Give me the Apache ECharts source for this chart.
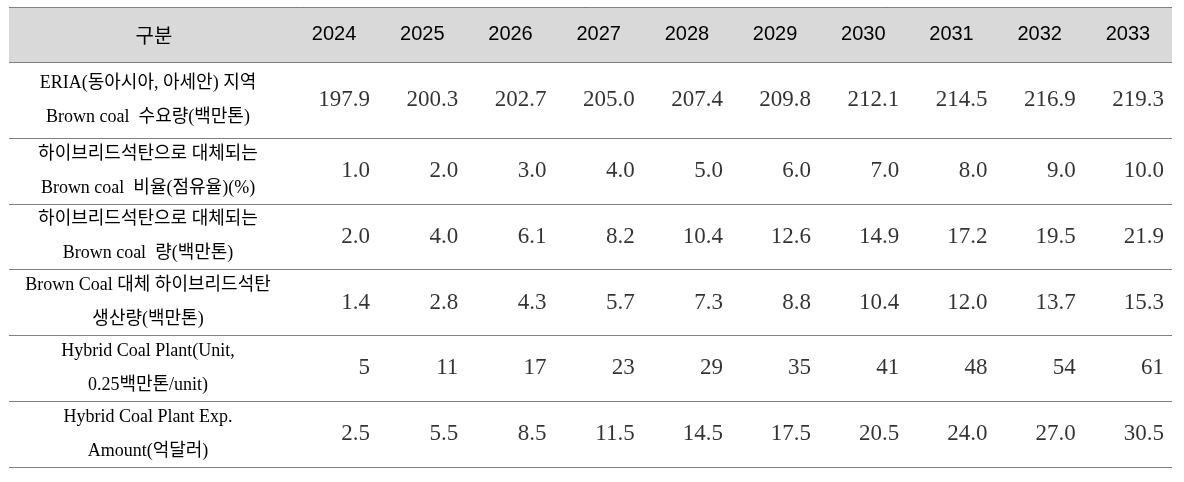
<!DOCTYPE html>
<html><head><meta charset="utf-8">
<script src="https://cdn.jsdelivr.net/npm/echarts@6/dist/echarts.min.js"></script>
<style>html,body{margin:0;padding:0;background:#fff}#c{width:1184px;height:482px}</style>
</head><body><div id="c"></div>
<script>
// ---- data ----
const headerLabel = '구분';
const years = ['2024', '2025', '2026', '2027', '2028', '2029', '2030', '2031', '2032', '2033'];
const rowLabels = [
  'ERIA(동아시아, 아세안) 지역\nBrown coal  수요량(백만톤)',
  '하이브리드석탄으로 대체되는\nBrown coal  비율(점유율)(%)',
  '하이브리드석탄으로 대체되는\nBrown coal  량(백만톤)',
  'Brown Coal 대체 하이브리드석탄\n생산량(백만톤)',
  'Hybrid Coal Plant(Unit,\n0.25백만톤/unit)',
  'Hybrid Coal Plant Exp.\nAmount(억달러)'
];
const brownCoalDemand = [197.9, 200.3, 202.7, 205.0, 207.4, 209.8, 212.1, 214.5, 216.9, 219.3];
const hybridShare = [1.0, 2.0, 3.0, 4.0, 5.0, 6.0, 7.0, 8.0, 9.0, 10.0];
const replacedBrownCoal = [2.0, 4.0, 6.1, 8.2, 10.4, 12.6, 14.9, 17.2, 19.5, 21.9];
const hybridProduction = [1.4, 2.8, 4.3, 5.7, 7.3, 8.8, 10.4, 12.0, 13.7, 15.3];
const plantUnits = [5, 11, 17, 23, 29, 35, 41, 48, 54, 61];
const plantExpAmount = [2.5, 5.5, 8.5, 11.5, 14.5, 17.5, 20.5, 24.0, 27.0, 30.5];
const rowDecimals = [1, 1, 1, 1, 0, 1];

// ---- chart ----
const rows = [brownCoalDemand, hybridShare, replacedBrownCoal, hybridProduction, plantUnits, plantExpAmount];
const groups = [[0], [1, 2, 3, 4, 5]];
const LINE = '#808080';
const TEXT = '#000';
const SERIF = "'Liberation Serif', 'Noto Sans CJK KR', serif";
const SANS = "'Liberation Sans', 'Noto Sans CJK KR', sans-serif";

const chart = echarts.init(document.getElementById('c'), null, { renderer: 'canvas' });
chart.setOption({
  animation: false,
  backgroundColor: '#fff',
  title: {
    text: headerLabel, left: 149, top: 20, textAlign: 'center',
    textStyle: { fontFamily: "'Noto Sans CJK KR', sans-serif", fontSize: 20, fontWeight: 'normal', color: TEXT }
  },
  graphic: [
    { type: 'rect', z: -10, shape: { x: 9, y: 7, width: 1163, height: 55 }, style: { fill: '#d9d9d9' } },
    { type: 'line', z: -5, shape: { x1: 9, y1: 7.5, x2: 1172, y2: 7.5 }, style: { stroke: LINE, lineWidth: 1 } }
  ],
  grid: [
    { left: 290, right: 12, top: 62, height: 76 },
    { left: 290, right: 12, top: 138, bottom: 15 }
  ],
  xAxis: groups.map((g, i) => ({
    gridIndex: i, type: 'category', data: years, position: 'top',
    axisLine: { show: false }, axisTick: { show: false }, splitLine: { show: false },
    axisLabel: {
      show: i === 0, interval: 0, margin: 27.5, verticalAlign: 'middle',
      fontFamily: SANS, fontSize: 20, color: TEXT
    }
  })),
  yAxis: groups.map((g, i) => ({
    gridIndex: i, type: 'category', inverse: true, data: g.map(r => rowLabels[r]),
    axisLine: { show: false },
    axisTick: { show: true, interval: 0, length: 281, lineStyle: { color: LINE, width: 1 } },
    splitLine: { show: true, interval: 0, lineStyle: { color: LINE, width: 1 } },
    axisLabel: {
      interval: 0, align: 'center', margin: 142,
      fontFamily: SERIF, fontSize: 18, lineHeight: 34, color: TEXT
    }
  })),
  series: groups.map((g, i) => ({
    type: 'scatter', xAxisIndex: i, yAxisIndex: i, silent: true,
    symbolSize: 1, itemStyle: { color: 'rgba(0,0,0,0)' },
    label: {
      show: true, position: 'inside', align: 'right', offset: [36, 0],
      fontFamily: SERIF, fontSize: 23, color: TEXT,
      formatter: p => p.value[2].toFixed(p.value[3])
    },
    data: g.flatMap((r, ri) => rows[r].map((v, c) => [c, ri, v, rowDecimals[r]]))
  }))
});
</script></body></html>
